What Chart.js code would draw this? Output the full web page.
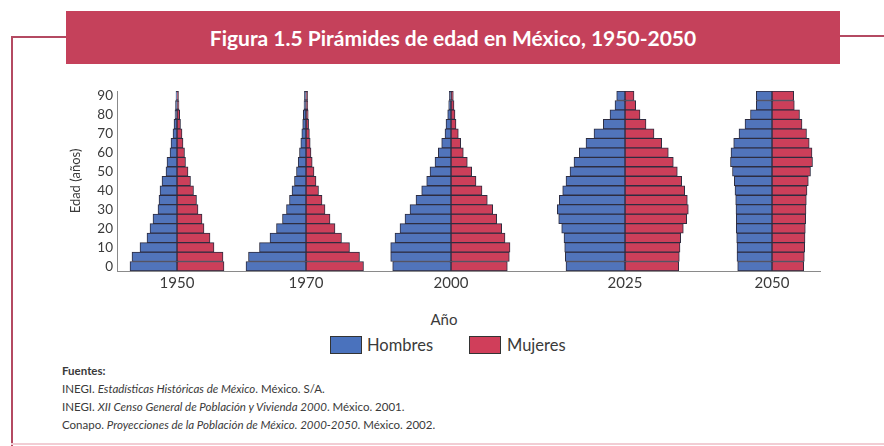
<!DOCTYPE html>
<html lang="es">
<head>
<meta charset="UTF-8">
<title>Pirámides de edad en México, 1950-2050</title>
<style>
* { margin: 0; padding: 0; box-sizing: border-box; }

body {
    width: 884px;
    height: 446px;
    position: relative;
    overflow: hidden;
    background: #fff;
    font-family: Lato, "Open Sans", sans-serif;
    color: #3a3a3a;
}

.line { position: absolute; background: #b44a62; }

#titlebox {
    position: absolute;
    left: 66px; top: 11px;
    width: 774px; height: 53px;
    background: #c5415b;
    color: #fff;
    font-weight: bold;
    font-size: 21px;
    line-height: 53px;
    text-align: center;
}

canvas { position: absolute; }

#anio {
    position: absolute;
    left: 404px; top: 310px; width: 80px;
    text-align: center;
    font-size: 15px;
}

.key { position: absolute; top: 336px; width: 32px; height: 18px; border: 1px solid #333; }
.keytext { position: absolute; top: 334px; font-size: 16.5px; line-height: 22px; }

#fuentes {
    position: absolute;
    left: 62px; top: 362px;
    font-size: 11.5px;
    line-height: 18px;
}
#fuentes b { font-size: 11.5px; }
</style>
</head>
<body>
    <div class="line" style="left:11px; top:36px; width:2px; height:410px;"></div>
    <div class="line" style="left:11px; top:36px; width:56px; height:2px;"></div>
    <div class="line" style="left:840px; top:35px; width:44px; height:2px;"></div>
    <div class="line" style="left:11px; top:443px; width:873px; height:2px; background:#f2cdd4;"></div>
    <div id="titlebox">Figura 1.5 Pirámides de edad en México, 1950-2050</div>

    <div id="anio">Año</div>
    <div class="key" style="left:330px; background:#4a72bd;"></div>
    <div class="keytext" style="left:367px;">Hombres</div>
    <div class="key" style="left:469px; background:#d03e5a;"></div>
    <div class="keytext" style="left:507px;">Mujeres</div>

    <div id="fuentes">
        <b>Fuentes:</b><br>
        INEGI. <i>Estadísticas Históricas de México</i>. México. S/A.<br>
        INEGI. <i>XII Censo General de Población y Vivienda 2000</i>. México. 2001.<br>
        Conapo. <i>Proyecciones de la Población de México. 2000-2050</i>. México. 2002.
    </div>

    <script src="https://cdn.jsdelivr.net/npm/chart.js@4"></script>
    <script>
// Age groups (lower bound of each 5-year group, 90 = 90+)
const AGE_GROUPS = [0, 5, 10, 15, 20, 25, 30, 35, 40, 45, 50, 55, 60, 65, 70, 75, 80, 85, 90];
const YEARS = ['1950', '1970', '2000', '2025', '2050'];

// Population per age group, same relative unit for every pyramid
const MEN_1950   = [4.7, 4.5, 3.7, 3.0, 2.7, 2.4, 1.9, 1.8, 1.7, 1.5, 1.1, 1.0, 0.7, 0.6, 0.4, 0.3, 0.2, 0.15, 0.1];
const WOMEN_1950 = [4.7, 4.6, 3.7, 3.3, 2.7, 2.5, 2.1, 1.95, 1.65, 1.35, 1.1, 0.85, 0.75, 0.6, 0.5, 0.35, 0.27, 0.2, 0.15];

const MEN_1970   = [6.0, 5.75, 4.65, 3.6, 2.95, 2.35, 1.95, 1.65, 1.4, 1.15, 0.95, 0.78, 0.65, 0.52, 0.42, 0.33, 0.27, 0.2, 0.16];
const WOMEN_1970 = [5.75, 5.35, 4.35, 3.55, 2.9, 2.4, 1.9, 1.6, 1.25, 1.0, 0.8, 0.62, 0.5, 0.42, 0.34, 0.26, 0.22, 0.18, 0.16];

const MEN_2000   = [5.83, 6.03, 6.03, 5.6, 5.1, 4.6, 4.1, 3.5, 2.93, 2.43, 2.1, 1.6, 1.27, 0.93, 0.6, 0.5, 0.33, 0.23, 0.17];
const WOMEN_2000 = [5.63, 5.83, 5.9, 5.4, 5.07, 4.57, 4.17, 3.63, 3.1, 2.5, 2.07, 1.63, 1.23, 0.97, 0.73, 0.5, 0.4, 0.3, 0.23];

const MEN_2025   = [5.9, 5.97, 6.03, 6.1, 6.33, 6.63, 6.77, 6.57, 6.23, 5.9, 5.5, 5.1, 4.57, 3.9, 3.1, 2.17, 1.5, 1.0, 0.83];
const WOMEN_2025 = [5.37, 5.43, 5.5, 5.57, 5.83, 6.17, 6.33, 6.23, 5.97, 5.67, 5.23, 4.83, 4.33, 3.67, 2.9, 2.1, 1.5, 1.07, 0.9];

const MEN_2050   = [3.43, 3.5, 3.5, 3.53, 3.57, 3.57, 3.6, 3.63, 3.7, 3.77, 3.95, 4.15, 4.1, 3.83, 3.3, 2.7, 2.15, 1.57, 1.57];
const WOMEN_2050 = [3.17, 3.23, 3.27, 3.3, 3.33, 3.37, 3.4, 3.43, 3.5, 3.63, 3.85, 4.05, 4.0, 3.72, 3.45, 3.0, 2.75, 2.23, 2.17];

const MEN   = [MEN_1950, MEN_1970, MEN_2000, MEN_2025, MEN_2050];
const WOMEN = [WOMEN_1950, WOMEN_1970, WOMEN_2000, WOMEN_2025, WOMEN_2050];

// Layout
const CENTERS = [177, 306, 451, 625, 772];   // pyramid centres, px
const AXIS_X = 117;                           // y axis line, px
const Y_AXIS_W = 57;
const PX_PER_UNIT = 10;
const CANVAS_TOP = 77, CANVAS_H = 224;

const BLUE = '#5174bb';
const RED = '#cc3f5a';
const EDGE = '#2e2d40';
const TEXT = '#3a3a3a';
const FONT = 'Lato, "Open Sans", sans-serif';

function makePyramid(i, left, half) {
    const withAxis = i === 0;
    const canvas = document.createElement('canvas');
    const width = 2 * half + (withAxis ? Y_AXIS_W : 0);
    canvas.width = width;
    canvas.height = CANVAS_H;
    canvas.style.left = (withAxis ? left - Y_AXIS_W : left) + 'px';
    canvas.style.top = CANVAS_TOP + 'px';
    document.body.appendChild(canvas);

    new Chart(canvas, {
        type: 'bar',
        data: {
            labels: AGE_GROUPS,
            datasets: [{
                label: 'Hombres',
                data: MEN[i].map(v => -v),
                backgroundColor: BLUE,
                borderColor: EDGE,
                borderWidth: 1,
                borderSkipped: false,
                barPercentage: 1,
                categoryPercentage: 1
            }, {
                label: 'Mujeres',
                data: WOMEN[i],
                backgroundColor: RED,
                borderColor: EDGE,
                borderWidth: 1,
                borderSkipped: false,
                barPercentage: 1,
                categoryPercentage: 1
            }]
        },
        options: {
            indexAxis: 'y',
            responsive: false,
            animation: false,
            layout: { padding: { top: 14 } },
            plugins: {
                legend: { display: false },
                tooltip: { enabled: false }
            },
            scales: {
                x: {
                    type: 'linear',
                    stacked: true,
                    min: -half / PX_PER_UNIT,
                    max: half / PX_PER_UNIT,
                    ticks: { display: false },
                    grid: { display: false },
                    border: { display: true, color: '#8a8a8a', width: 1 },
                    title: {
                        display: true,
                        text: YEARS[i],
                        color: TEXT,
                        font: { family: FONT, size: 15 },
                        padding: { top: 0, bottom: 9 }
                    },
                    afterFit: s => { s.height = 30; }
                },
                y: {
                    type: 'category',
                    stacked: true,
                    reverse: true,
                    display: withAxis,
                    grid: { display: false, drawTicks: false },
                    border: { display: true, color: '#8a8a8a', width: 1 },
                    ticks: {
                        autoSkip: false,
                        padding: 4,
                        color: TEXT,
                        font: { family: FONT, size: 13.5 },
                        callback: (v, idx) => AGE_GROUPS[idx] % 10 === 0 ? AGE_GROUPS[idx] : ''
                    },
                    title: {
                        display: true,
                        text: 'Edad (años)',
                        color: TEXT,
                        font: { family: FONT, size: 13 },
                        padding: { top: 8, bottom: 0 }
                    },
                    afterFit: s => { s.width = withAxis ? Y_AXIS_W : 0; }
                }
            }
        }
    });
}

// pyramids side by side: each plot is symmetric around its centre
let left = AXIS_X;
CENTERS.forEach((c, i) => {
    const half = c - left;
    makePyramid(i, left, half);
    left = c + half;
});
    </script>
</body>
</html>
